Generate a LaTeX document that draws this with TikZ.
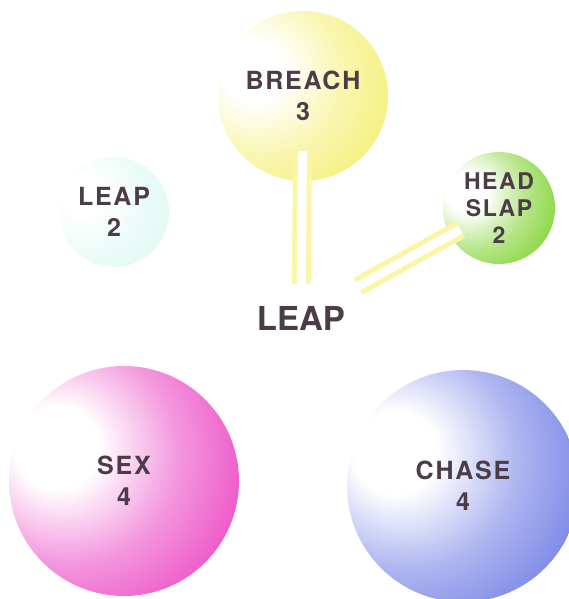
\documentclass[tikz,border=0pt]{standalone}
\usepackage{fontspec}
\setmainfont{TeX Gyre Heros}
\newfontfamily\ballfont[LetterSpace=7]{TeX Gyre Heros}

\definecolor{labcol}{RGB}{75,60,72}
\definecolor{breachcol}{RGB}{244,238,110}
\definecolor{slapcol}{RGB}{125,210,45}
\definecolor{leapcol}{RGB}{222,249,243}
\definecolor{sexcol}{RGB}{234,66,194}
\definecolor{chasecol}{RGB}{108,122,228}
\definecolor{stickcol}{RGB}{250,246,165}

% white highlight a little left of the middle
\colorlet{spherecol}{yellow}
\pgfdeclareradialshading[spherecol]{sphere}{\pgfpoint{-16bp}{8bp}}{%
  color(0bp)=(white); color(9bp)=(white);
  color(24bp)=(spherecol!55!white); color(42bp)=(spherecol);
  color(100bp)=(spherecol)}

\begin{document}
\begin{tikzpicture}[x=1pt, y=-1pt,
    ball/.style={circle, minimum size=#1, inner sep=0pt, align=center,
      text=labcol, font=\ballfont\bfseries\fontsize{25}{31}\selectfont},
    tint/.style={/utils/exec={\colorlet{spherecol}{#1}}, shading=sphere},
    stick/.style={draw=stickcol, line width=5pt, double=white, double distance=9pt}]

    \useasboundingbox (0,0) rectangle (569,599);

    % Kugeln
    \node[ball=170pt, tint=breachcol] (breach) at (303,96) {BREACH\\3};
    \node[ball=112pt, tint=slapcol, font=\ballfont\bfseries\fontsize{23}{27}\selectfont]
        (slap) at (499,208) {HEAD\\SLAP\\2};
    \node[ball=110pt, tint=leapcol] (leap2) at (114,212) {LEAP\\2};
    \node[ball=230pt, tint=sexcol] (sex) at (124,481) {SEX\\4};
    \node[ball=232pt, tint=chasecol] (chase) at (463,486) {CHASE\\4};

    % Mitte
    \node[text=labcol, font=\bfseries\fontsize{33}{36}\selectfont, inner sep=2pt]
        (leap) at (301,318) {LEAP};

    % Stiele
    \draw[stick, shorten <=20pt, shorten >=55pt] (leap) -- (breach.center);
    \draw[stick, shorten <=36pt, shorten >=44pt] (leap) -- (slap.center);

\end{tikzpicture}
\end{document}
